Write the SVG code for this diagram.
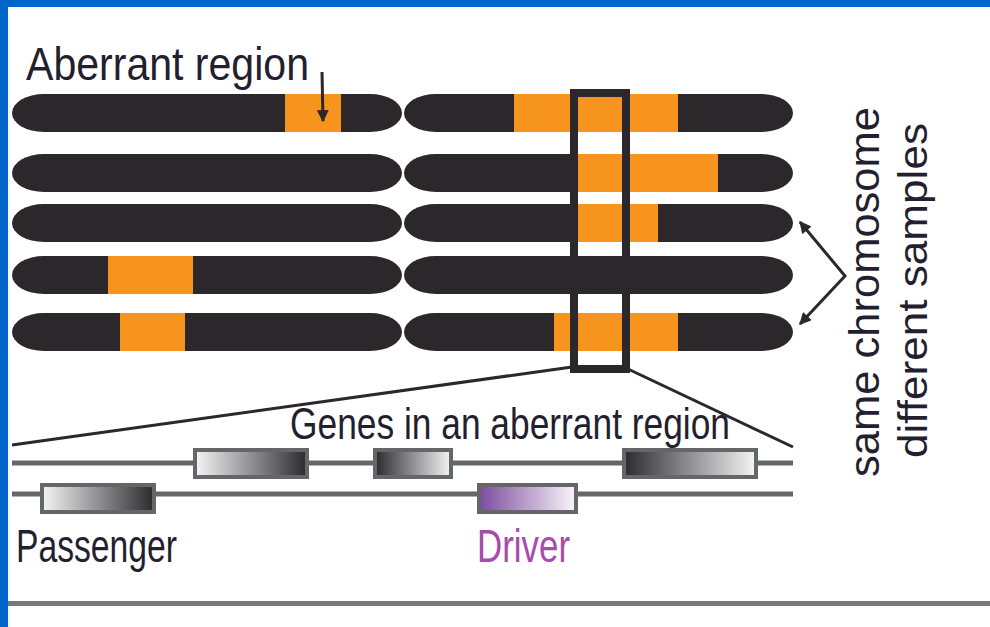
<svg xmlns="http://www.w3.org/2000/svg" width="990" height="627" viewBox="0 0 990 627">
  <style>
    .chr { fill: #2b272b; }
    .abr { fill: #f7941d; }
    .lbl { font-family: "Liberation Sans", Arial, sans-serif; fill: #231f2e; }
    .gene { stroke: #646669; stroke-width: 4; }
    .track { stroke: #646669; stroke-width: 5; fill: none; }
    .conn { stroke: #2b272b; stroke-width: 3; fill: none; }
  </style>
  <defs>
    <linearGradient id="lightDark" x1="0" y1="0" x2="1" y2="0">
      <stop offset="0" stop-color="#f5f5f5"/>
      <stop offset="1" stop-color="#2d2a2e"/>
    </linearGradient>
    <linearGradient id="darkLight" x1="0" y1="0" x2="1" y2="0">
      <stop offset="0" stop-color="#2d2a2e"/>
      <stop offset="1" stop-color="#f5f5f5"/>
    </linearGradient>
    <linearGradient id="purple" x1="0" y1="0" x2="1" y2="0">
      <stop offset="0" stop-color="#7b4c9c"/>
      <stop offset="1" stop-color="#faf6fa"/>
    </linearGradient>
    <marker id="ah" viewBox="0 0 10 10" refX="9" refY="5" markerWidth="4.5" markerHeight="4" orient="auto-start-reverse" markerUnits="strokeWidth">
      <path d="M0,0 L10,5 L0,10 Z" fill="#2b272b"/>
    </marker>
  </defs>

  <rect width="990" height="627" fill="#ffffff"/>
  <!-- blue frame -->
  <rect x="0" y="0" width="990" height="7" fill="#0066cc"/>
  <rect x="0" y="0" width="8" height="627" fill="#0066cc"/>

  <!-- chromosomes -->
  <g id="row1">
    <rect class="chr" x="12" y="94" width="390" height="38" rx="32" ry="19"/>
    <rect class="abr" x="285" y="94" width="56" height="38"/>
    <rect class="chr" x="404" y="94" width="389" height="38" rx="32" ry="19"/>
    <rect class="abr" x="514" y="94" width="164" height="38"/>
  </g>
  <g id="row2">
    <rect class="chr" x="12" y="154" width="390" height="38" rx="32" ry="19"/>
    <rect class="chr" x="404" y="154" width="389" height="38" rx="32" ry="19"/>
    <rect class="abr" x="576" y="154" width="142" height="38"/>
  </g>
  <g id="row3">
    <rect class="chr" x="12" y="204" width="390" height="38" rx="32" ry="19"/>
    <rect class="chr" x="404" y="204" width="389" height="38" rx="32" ry="19"/>
    <rect class="abr" x="576" y="204" width="82" height="38"/>
  </g>
  <g id="row4">
    <rect class="chr" x="12" y="256" width="390" height="38" rx="32" ry="19"/>
    <rect class="abr" x="108" y="256" width="85" height="38"/>
    <rect class="chr" x="404" y="256" width="389" height="38" rx="32" ry="19"/>
  </g>
  <g id="row5">
    <rect class="chr" x="12" y="313" width="390" height="38" rx="32" ry="19"/>
    <rect class="abr" x="120" y="313" width="65" height="38"/>
    <rect class="chr" x="404" y="313" width="389" height="38" rx="32" ry="19"/>
    <rect class="abr" x="554" y="313" width="124" height="38"/>
  </g>

  <!-- selection box -->
  <g id="selection">
    <rect x="574" y="93" width="52" height="276" fill="none" stroke="#2b272b" stroke-width="8"/>
  </g>

  <!-- labels -->
  <g id="label-aberrant">
    <text class="lbl" x="26" y="80" font-size="46" textLength="283" lengthAdjust="spacingAndGlyphs">Aberrant region</text>
  </g>
  <g id="label-same">
    <text class="lbl" transform="translate(879,477) rotate(-90)" font-size="42" textLength="370" lengthAdjust="spacingAndGlyphs">same chromosome</text>
    <text class="lbl" transform="translate(927,458) rotate(-90)" font-size="41" textLength="335" lengthAdjust="spacingAndGlyphs">different samples</text>
  </g>
  <g id="label-genes">
    <text class="lbl" x="290" y="439" font-size="44" textLength="440" lengthAdjust="spacingAndGlyphs">Genes in an aberrant region</text>
  </g>

  <!-- connectors -->
  <g id="connectors">
    <line class="conn" x1="322" y1="72" x2="323" y2="121" marker-end="url(#ah)"/>
    <polyline class="conn" points="800,222 845,276 800,324" marker-start="url(#ah)" marker-end="url(#ah)"/>
    <line class="conn" x1="12" y1="445" x2="572" y2="367"/>
    <line class="conn" x1="628" y1="369" x2="793" y2="447"/>
  </g>

  <!-- gene tracks -->
  <g id="tracks">
    <line class="track" x1="12" y1="463" x2="793" y2="463"/>
    <line class="track" x1="12" y1="494" x2="793" y2="494"/>
  </g>
  <g id="gene1"><rect class="gene" x="195" y="450" width="112" height="27" fill="url(#lightDark)"/></g>
  <g id="gene2"><rect class="gene" x="375" y="450" width="76" height="27" fill="url(#darkLight)"/></g>
  <g id="gene3"><rect class="gene" x="624" y="450" width="132" height="27" fill="url(#darkLight)"/></g>
  <g id="passenger">
    <rect class="gene" x="42" y="485" width="112" height="27" fill="url(#lightDark)"/>
    <text class="lbl" x="16" y="562" font-size="46" textLength="161" lengthAdjust="spacingAndGlyphs">Passenger</text>
  </g>
  <g id="driver">
    <rect class="gene" x="479" y="485" width="97" height="27" fill="url(#purple)"/>
    <text class="lbl" x="477" y="562" font-size="46" textLength="93" lengthAdjust="spacingAndGlyphs" style="fill:#a84bab">Driver</text>
  </g>

  <!-- bottom rule -->
  <rect x="8" y="601" width="982" height="5" fill="#76787b"/>
</svg>
